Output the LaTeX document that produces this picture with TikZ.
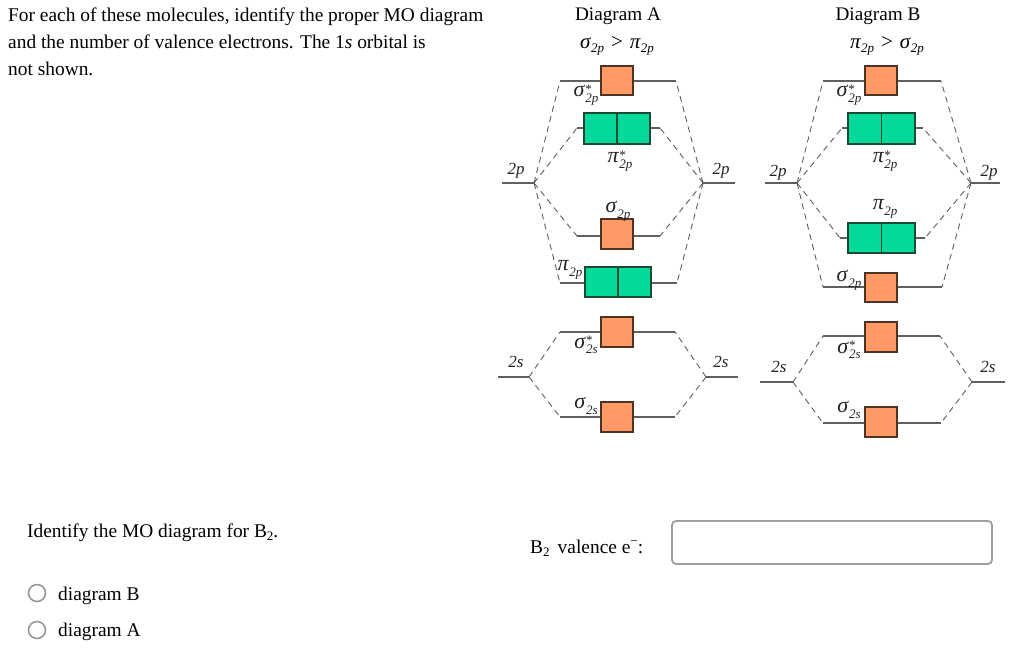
\documentclass[tikz,border=0pt]{standalone}
\usepackage{fontspec}
\setmainfont{Liberation Serif}
\definecolor{orfill}{RGB}{255,153,102}
\definecolor{orline}{RGB}{80,50,35}
\definecolor{grfill}{RGB}{2,217,155}
\definecolor{grline}{RGB}{25,75,50}
\definecolor{lvlcol}{RGB}{95,95,95}
\definecolor{labcol}{RGB}{35,35,35}
\newcommand{\orblab}[3]{{\fontsize{22}{24}\selectfont\textit{#1}}\rlap{\raisebox{3.5pt}{\fontsize{13}{13}\selectfont #3}}\raisebox{-5.5pt}{\fontsize{13}{13}\selectfont\textit{#2}}}
\newcommand{\smsub}[1]{\raisebox{-4pt}{\fontsize{13}{13}\selectfont\textit{#1}}}
\tikzset{
  obox/.style={draw=orline, fill=orfill, line width=1.1pt, minimum width=32pt, minimum height=29pt, inner sep=0pt},
  gbox/.style={draw=grline, fill=grfill, line width=1.1pt, minimum width=66pt, minimum height=30pt, inner sep=0pt},
  lvl/.style={draw=lvlcol, line width=1.1pt},
  dsh/.style={draw=lvlcol, line width=0.9pt, dash pattern=on 6pt off 4.5pt},
  lab/.style={text=labcol, font=\fontsize{17}{20}\selectfont, inner sep=0pt},
  txt/.style={text=black, font=\fontsize{19.4}{22}\selectfont, inner sep=0pt, anchor=base west},
  ttl/.style={text=black, font=\fontsize{19.2}{22}\selectfont, inner sep=0pt, anchor=base},
  radio/.style={circle, draw=gray!85, line width=1.5pt, minimum size=17pt, inner sep=0pt}
}
\begin{document}
\begin{tikzpicture}[x=1pt,y=-1pt]
\useasboundingbox (0,0) rectangle (1024,665);
\fill[white] (0,0) rectangle (1024,665);

% ---------- text ----------
\node[txt] (t1) at (8,21) {For each of these molecules, identify the proper MO diagram};
\node[txt] (t2) at (8,48) {and the number of valence electrons. The 1\textit{s} orbital is};
\node[txt] (t3) at (8,75) {not shown.};
\node[txt] (q1) at (27,537) {Identify the MO diagram for B\raisebox{-0.4ex}{\fontsize{13}{13}\selectfont 2}.};
\node[radio] (rb) at (37,593) {};
\node[txt] (rbt) at (58,600) {diagram B};
\node[radio] (ra) at (37,630) {};
\node[txt] (rat) at (58,636) {diagram A};
\node[txt] (q2) at (530,553) {B\raisebox{-0.4ex}{\fontsize{13}{13}\selectfont 2}\, valence e\raisebox{0.8ex}{\fontsize{13}{13}\selectfont −}:};
\node[draw=gray!75, rounded corners=4pt, line width=1.8pt, minimum width=320pt, minimum height=43pt, inner sep=0pt] (inp) at (832,542.5) {};

% ---------- Diagram A ----------
\node[ttl] (tA) at (618,20) {Diagram A};
\node[ttl, font=\fontsize{21}{22}\selectfont] (hA) at (617,48) {\textit{σ}\smsub{2p}\hspace{7pt}>\hspace{7pt}\textit{π}\smsub{2p}};

\coordinate (A2pLa) at (502,183); \coordinate (A2pLb) at (534,183);
\coordinate (A2pRa) at (703,183); \coordinate (A2pRb) at (735,183);
\coordinate (A2sLa) at (498,377); \coordinate (A2sLb) at (529,377);
\coordinate (A2sRa) at (706,377); \coordinate (A2sRb) at (738,377);
\draw[lvl] (A2pLa) -- (A2pLb); \draw[lvl] (A2pRa) -- (A2pRb);
\draw[lvl] (A2sLa) -- (A2sLb); \draw[lvl] (A2sRa) -- (A2sRb);

\coordinate (AssL) at (560,81);  \coordinate (AssR) at (676,81);
\coordinate (AppL) at (577,128); \coordinate (AppR) at (660,128);
\coordinate (AsL) at (577,236);  \coordinate (AsR) at (660,236);
\coordinate (ApL) at (560,283);  \coordinate (ApR) at (677,283);
\coordinate (AtsL) at (560,332); \coordinate (AtsR) at (675,332);
\coordinate (AbsL) at (560,417); \coordinate (AbsR) at (675,417);
\foreach \a/\b in {AssL/AssR, AppL/AppR, AsL/AsR, ApL/ApR, AtsL/AtsR, AbsL/AbsR}
  \draw[lvl] (\a) -- (\b);

\foreach \t in {AssL, AppL, AsL, ApL} \draw[dsh] (A2pLb) -- (\t);
\foreach \t in {AssR, AppR, AsR, ApR} \draw[dsh] (A2pRa) -- (\t);
\foreach \t in {AtsL, AbsL} \draw[dsh] (A2sLb) -- (\t);
\foreach \t in {AtsR, AbsR} \draw[dsh] (A2sRa) -- (\t);

\node[obox] (Ass) at (617,80.5) {};
\node[gbox] (App) at (617,128.5) [minimum height=31pt] {};
\draw[draw=grline, line width=1.1pt] (App.north) -- (App.south);
\node[obox, minimum height=30pt] (As) at (617,234) {};
\node[gbox] (Ap) at (618,282) {};
\draw[draw=grline, line width=1.1pt] (Ap.north) -- (Ap.south);
\node[obox, minimum height=30pt] (Ats) at (617,332) {};
\node[obox, minimum height=30pt] (Abs) at (617,417) {};

\node[lab] (lA2pL) at (516,171) {\textit{2p}};
\node[lab] (lA2pR) at (721,171) {\textit{2p}};
\node[lab] (lA2sL) at (516,362) {\textit{2s}};
\node[lab] (lA2sR) at (721,362) {\textit{2s}};
\node[lab] (lAss) at (586,95) {\orblab{σ}{2p}{*}};
\node[lab] (lApp) at (620,161) {\orblab{π}{2p}{*}};
\node[lab] (lAs) at (618,211) {\orblab{σ}{2p}{}};
\node[lab] (lAp) at (570,270) {\orblab{π}{2p}{}};
\node[lab] (lAts) at (586,345) {\orblab{σ}{2s}{*}};
\node[lab] (lAbs) at (586,406) {\orblab{σ}{2s}{}};

% ---------- Diagram B ----------
\node[ttl] (tB) at (878,20) {Diagram B};
\node[ttl, font=\fontsize{21}{22}\selectfont] (hB) at (887,48) {\textit{π}\smsub{2p}\hspace{7pt}>\hspace{7pt}\textit{σ}\smsub{2p}};

\coordinate (B2pLa) at (765,183); \coordinate (B2pLb) at (797,183);
\coordinate (B2pRa) at (971,183); \coordinate (B2pRb) at (1000,183);
\coordinate (B2sLa) at (760,382); \coordinate (B2sLb) at (793,382);
\coordinate (B2sRa) at (972,382); \coordinate (B2sRb) at (1005,382);
\draw[lvl] (B2pLa) -- (B2pLb); \draw[lvl] (B2pRa) -- (B2pRb);
\draw[lvl] (B2sLa) -- (B2sLb); \draw[lvl] (B2sRa) -- (B2sRb);

\coordinate (BssL) at (823,81);  \coordinate (BssR) at (941,81);
\coordinate (BppL) at (842,128); \coordinate (BppR) at (923,128);
\coordinate (BpL) at (840,238);  \coordinate (BpR) at (925,238);
\coordinate (BsL) at (823,287);  \coordinate (BsR) at (942,287);
\coordinate (BtsL) at (823,336); \coordinate (BtsR) at (940,336);
\coordinate (BbsL) at (823,423); \coordinate (BbsR) at (941,423);
\foreach \a/\b in {BssL/BssR, BppL/BppR, BpL/BpR, BsL/BsR, BtsL/BtsR, BbsL/BbsR}
  \draw[lvl] (\a) -- (\b);

\foreach \t in {BssL, BppL, BpL, BsL} \draw[dsh] (B2pLb) -- (\t);
\foreach \t in {BssR, BppR, BpR, BsR} \draw[dsh] (B2pRa) -- (\t);
\foreach \t in {BtsL, BbsL} \draw[dsh] (B2sLb) -- (\t);
\foreach \t in {BtsR, BbsR} \draw[dsh] (B2sRa) -- (\t);

\node[obox] (Bss) at (881,80.5) {};
\node[gbox, minimum width=67pt, minimum height=31pt] (Bpp) at (881.5,128.5) {};
\draw[draw=grline, line width=1.1pt] (Bpp.north) -- (Bpp.south);
\node[gbox, minimum width=67pt] (Bp) at (881.5,238) {};
\draw[draw=grline, line width=1.1pt] (Bp.north) -- (Bp.south);
\node[obox] (Bs) at (881,287.5) {};
\node[obox, minimum height=30pt] (Bts) at (881,337) {};
\node[obox, minimum height=30pt] (Bbs) at (881,422) {};

\node[lab] (lB2pL) at (778,173) {\textit{2p}};
\node[lab] (lB2pR) at (989,173) {\textit{2p}};
\node[lab] (lB2sL) at (779,367) {\textit{2s}};
\node[lab] (lB2sR) at (988,367) {\textit{2s}};
\node[lab] (lBss) at (849,95) {\orblab{σ}{2p}{*}};
\node[lab] (lBpp) at (885,161) {\orblab{π}{2p}{*}};
\node[lab] (lBp) at (885,209) {\orblab{π}{2p}{}};
\node[lab] (lBs) at (849,280) {\orblab{σ}{2p}{}};
\node[lab] (lBts) at (849,350) {\orblab{σ}{2s}{*}};
\node[lab] (lBbs) at (849,410) {\orblab{σ}{2s}{}};
\end{tikzpicture}
\end{document}
